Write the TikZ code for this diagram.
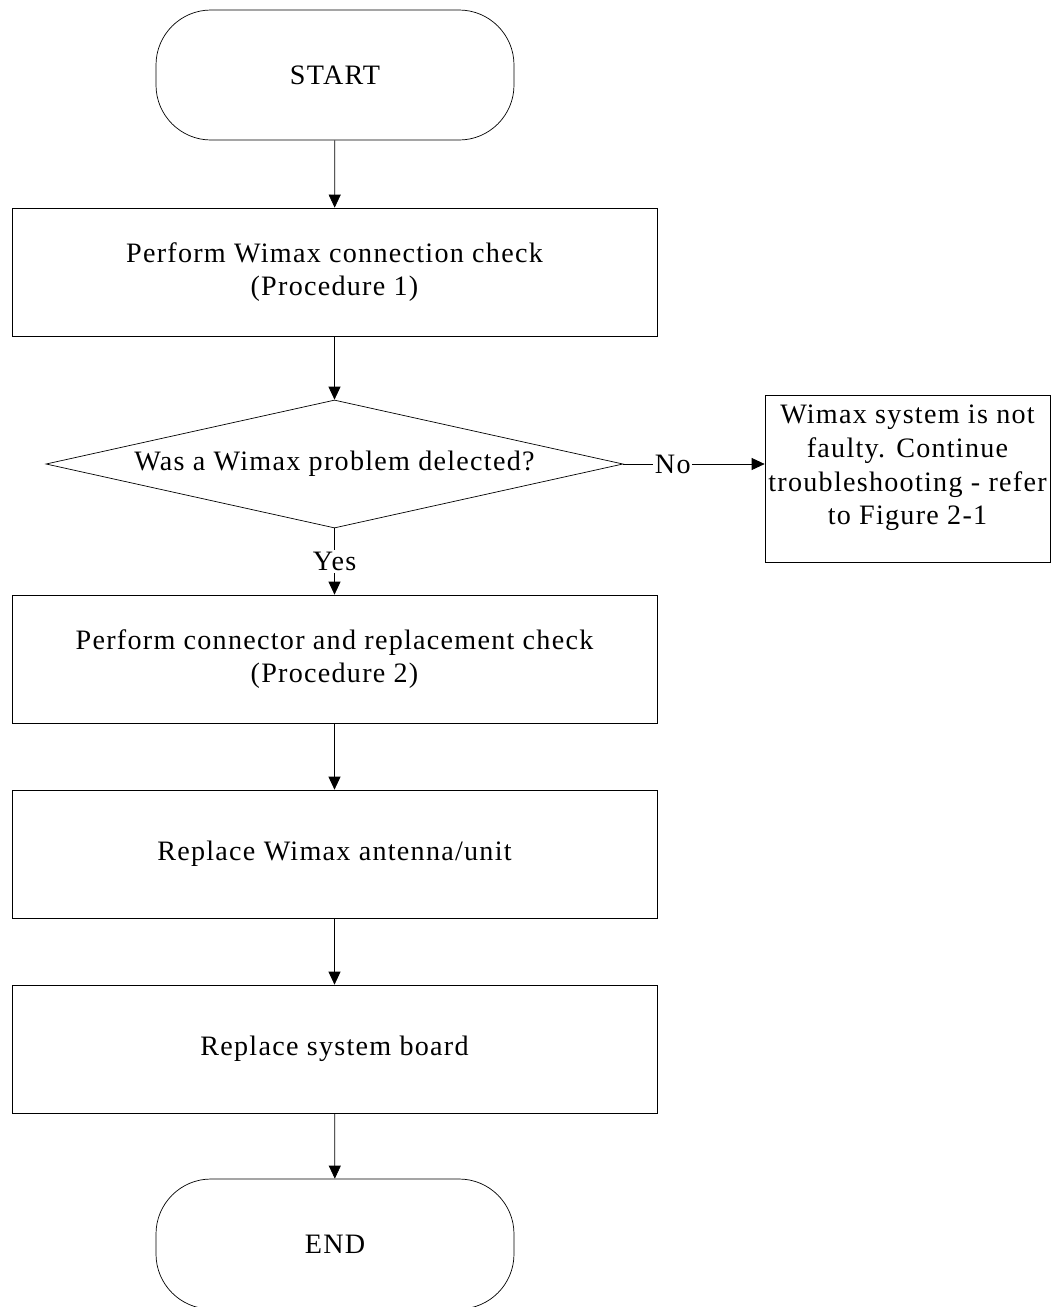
\documentclass[tikz,border=0pt]{standalone}
\usepackage{fontspec}
\setmainfont{Liberation Serif}[LetterSpace=4.5]
\usetikzlibrary{shapes.geometric,arrows.meta}

\begin{document}
\begin{tikzpicture}[
    font=\fontsize{16}{19.2}\selectfont,
    terminal/.style={draw, rounded corners=1.1cm, minimum width=7.16cm, minimum height=2.6cm},
    stepbox/.style={draw, minimum width=12.9cm, minimum height=2.56cm, align=center},
    decision/.style={draw, diamond, aspect=4.5, minimum width=11.54cm, minimum height=2.56cm, inner sep=0pt},
    note/.style={draw, minimum width=5.7cm, minimum height=3.34cm},
    flow/.style={-{Triangle[length=0.26cm,width=0.24cm]}}
  ]
  \useasboundingbox (0cm,0cm) rectangle (21.06cm,-26.14cm);
  % main column
  \node[terminal] (start) at (6.7cm,-1.5cm) {START};
  \node[stepbox] (conncheck) at (6.69cm,-5.44cm) {Perform Wimax connection check\\(Procedure 1)};
  \node[decision] (detected) at (6.69cm,-9.28cm) {Was a Wimax problem delected?};
  \node[stepbox] (replcheck) at (6.69cm,-13.18cm) {Perform connector and replacement check\\(Procedure 2)};
  \node[stepbox] (antenna) at (6.69cm,-17.08cm) {Replace Wimax antenna/unit};
  \node[stepbox] (board) at (6.69cm,-20.98cm) {Replace system board};
  \node[terminal] (end) at (6.7cm,-24.88cm) {END};
  % side branch
  \node[note] (notfaulty) at (18.15cm,-9.57cm) {};
  \node[align=center] (notfaultytext) at ([yshift=0.21cm]notfaulty.center)
    {Wimax system is not\\faulty. Continue\\troubleshooting - refer\\to Figure 2-1};
  % connectors
  \draw[flow] (start) -- (conncheck);
  \draw[flow] (conncheck) -- (detected);
  \draw[flow] (detected) -- node[fill=white, inner sep=1pt] {Yes} (replcheck);
  \draw[flow] (detected.east) -- node[pos=0.35, fill=white, inner sep=1pt] {No} (detected.east -| notfaulty.west);
  \draw[flow] (replcheck) -- (antenna);
  \draw[flow] (antenna) -- (board);
  \draw[flow] (board) -- (end);
\end{tikzpicture}
\end{document}
